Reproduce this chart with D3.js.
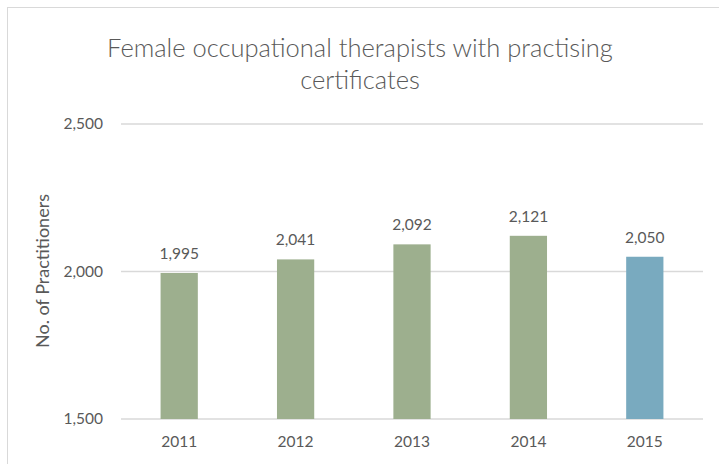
<!DOCTYPE html>
<html>
<head>
<meta charset="utf-8">
<script src="https://cdn.jsdelivr.net/npm/d3@7"></script>
<style>
  body { margin: 0; background: #fff; }
  text { font-family: Lato, "Open Sans", sans-serif; fill: #595959; }
</style>
</head>
<body>
<svg id="chart"></svg>
<script>
var years = ["2011", "2012", "2013", "2014", "2015"];
var practitioners = [1995, 2041, 2092, 2121, 2050];
var barColors = ["#9daf8e", "#9daf8e", "#9daf8e", "#9daf8e", "#79aabf"];
var yTicks = [1500, 2000, 2500];

var width = 719, height = 464;
var svg = d3.select("#chart")
    .attr("width", width)
    .attr("height", height);

// chart frame
svg.append("rect")
    .attr("x", 7.5).attr("y", 7.5)
    .attr("width", 730).attr("height", 480)
    .attr("fill", "none")
    .attr("stroke", "#d9d9d9");

var x = d3.scaleBand()
    .domain(years)
    .range([121, 703])
    .paddingInner(0.68)
    .paddingOuter(0.34);

var y = d3.scaleLinear()
    .domain([1500, 2500])
    .range([419, 124]);

// gridlines
svg.append("g")
    .selectAll("line")
    .data(yTicks)
    .enter()
    .append("line")
    .attr("x1", 121).attr("x2", 703)
    .attr("y1", d => y(d)).attr("y2", d => y(d))
    .attr("stroke", "#d9d9d9")
    .attr("stroke-width", 1.3);

// y axis labels
var yAxis = d3.axisLeft(y).tickValues(yTicks).tickFormat(d3.format(",")).tickSize(0).tickPadding(0);
svg.append("g")
    .attr("transform", "translate(103,0)")
    .call(yAxis)
    .call(g => g.select(".domain").remove())
    .selectAll("text")
    .attr("font-size", "15.5px")
    .attr("fill", "#595959")
    .attr("font-family", "Lato, sans-serif");

// x axis labels
var xAxis = d3.axisBottom(x).tickSize(0).tickPadding(0);
svg.append("g")
    .attr("transform", "translate(0,436)")
    .call(xAxis)
    .call(g => g.select(".domain").remove())
    .selectAll("text")
    .attr("font-size", "15.5px")
    .attr("fill", "#595959")
    .attr("font-family", "Lato, sans-serif");

var data = years.map((yr, i) => ({ year: yr, value: practitioners[i], color: barColors[i] }));

svg.append("g")
    .selectAll("rect")
    .data(data)
    .enter()
    .append("rect")
    .attr("x", d => x(d.year))
    .attr("width", x.bandwidth())
    .attr("y", d => y(d.value))
    .attr("height", d => y(1500) - y(d.value))
    .attr("fill", d => d.color);

svg.append("g")
    .selectAll("text")
    .data(data)
    .enter()
    .append("text")
    .attr("x", d => x(d.year) + x.bandwidth() / 2)
    .attr("y", d => y(d.value) - 14)
    .attr("text-anchor", "middle")
    .attr("font-size", "15.5px")
    .attr("fill", "#404040")
    .text(d => d3.format(",")(d.value));

// titles
svg.append("text")
    .attr("x", 360).attr("y", 57)
    .attr("text-anchor", "middle")
    .attr("font-size", "25.5px")
    .attr("font-weight", 300)
    .text("Female occupational therapists with practising");
svg.append("text")
    .attr("x", 360).attr("y", 89)
    .attr("text-anchor", "middle")
    .attr("font-size", "25.5px")
    .attr("font-weight", 300)
    .text("certificates");

svg.append("text")
    .attr("transform", "translate(49,271) rotate(-90)")
    .attr("text-anchor", "middle")
    .attr("font-size", "18px")
    .text("No. of Practitioners");
</script>
</body>
</html>
